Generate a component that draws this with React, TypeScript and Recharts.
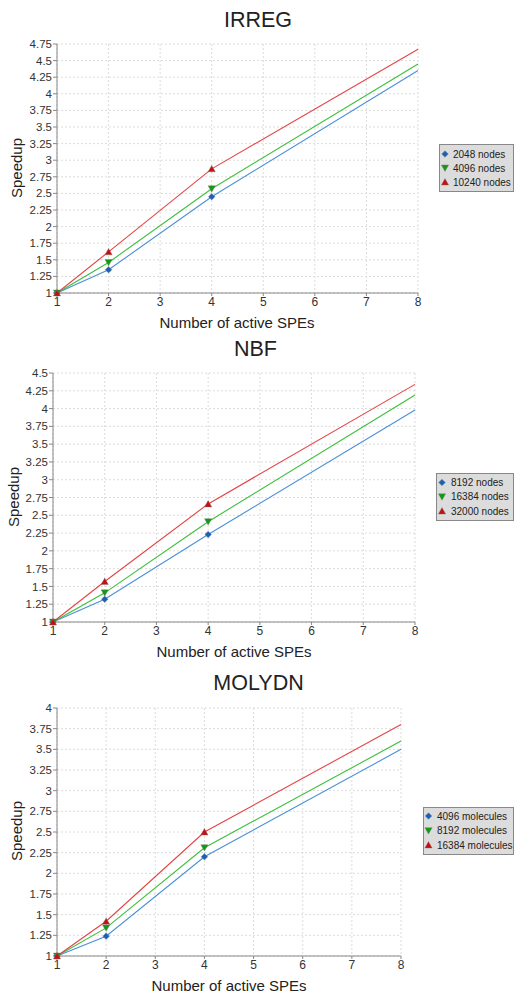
import React from 'react';
import { LineChart, Line, XAxis, YAxis, CartesianGrid } from 'recharts';

const speCounts = [1, 2, 4, 8];
const markedSpeCounts = [1, 2, 4];
const xTicks = [1, 2, 3, 4, 5, 6, 7, 8];

const irregTitle = 'IRREG';
const irregNames = ['2048 nodes', '4096 nodes', '10240 nodes'];
const irreg2048 = [1, 1.35, 2.45, 4.35];
const irreg4096 = [1, 1.46, 2.57, 4.45];
const irreg10240 = [1, 1.62, 2.87, 4.67];
const irregYTicks = [1, 1.25, 1.5, 1.75, 2, 2.25, 2.5, 2.75, 3, 3.25, 3.5, 3.75, 4, 4.25, 4.5, 4.75];

const nbfTitle = 'NBF';
const nbfNames = ['8192 nodes', '16384 nodes', '32000 nodes'];
const nbf8192 = [1, 1.32, 2.23, 3.98];
const nbf16384 = [1, 1.41, 2.41, 4.19];
const nbf32000 = [1, 1.57, 2.66, 4.34];
const nbfYTicks = [1, 1.25, 1.5, 1.75, 2, 2.25, 2.5, 2.75, 3, 3.25, 3.5, 3.75, 4, 4.25, 4.5];

const molydnTitle = 'MOLYDN';
const molydnNames = ['4096 molecules', '8192 molecules', '16384 molecules'];
const molydn4096 = [1, 1.24, 2.2, 3.5];
const molydn8192 = [1, 1.34, 2.31, 3.6];
const molydn16384 = [1, 1.42, 2.5, 3.8];
const molydnYTicks = [1, 1.25, 1.5, 1.75, 2, 2.25, 2.5, 2.75, 3, 3.25, 3.5, 3.75, 4];

const xLabel = 'Number of active SPEs';
const yLabel = 'Speedup';

const FONT = '"Liberation Sans", Arial, sans-serif';

const seriesStyle = [
  { line: '#4a90d9', marker: '#1a62b8', shape: 'diamond' },
  { line: '#3cbf3c', marker: '#129a12', shape: 'down' },
  { line: '#e44444', marker: '#c41010', shape: 'up' },
];

function Marker({ cx, cy, shape, color }: { cx: number; cy: number; shape: string; color: string }) {
  if (cx == null || cy == null || isNaN(cx) || isNaN(cy)) return null;
  if (shape === 'diamond') {
    const s = 3.3;
    return <path d={`M${cx},${cy - s}L${cx + s},${cy}L${cx},${cy + s}L${cx - s},${cy}Z`} fill={color} stroke="#777" strokeWidth={0.4} />;
  }
  if (shape === 'down') {
    return <path d={`M${cx - 3.6},${cy - 3}L${cx + 3.6},${cy - 3}L${cx},${cy + 3.4}Z`} fill={color} stroke="#777" strokeWidth={0.4} />;
  }
  return <path d={`M${cx - 3.6},${cy + 3}L${cx + 3.6},${cy + 3}L${cx},${cy - 3.4}Z`} fill={color} stroke="#777" strokeWidth={0.4} />;
}

type PanelProps = {
  top: number;
  height: number;
  title: string;
  names: string[];
  values: number[][];
  yTicks: number[];
  margin: { top: number; right: number; bottom: number; left: number };
  titlePos: [number, number];
  yLabelPos: [number, number];
  xLabelPos: [number, number];
  legendBox: { x: number; y: number; w: number; h: number };
  legendRows: number[];
  legendMarkerX: number;
  legendTextX: number;
};

function Panel(p: PanelProps) {
  const data = speCounts.map((spe, i) => ({
    spe,
    s0: p.values[0][i],
    s1: p.values[1][i],
    s2: p.values[2][i],
  }));
  const yMin = p.yTicks[0];
  const yMax = p.yTicks[p.yTicks.length - 1];
  return (
    <div style={{ position: 'absolute', left: 0, top: p.top, width: 514, height: p.height }}>
      <LineChart width={514} height={p.height} data={data} margin={p.margin}>
        <CartesianGrid stroke="#dcdcdc" strokeDasharray="2 2" />
        <XAxis
          dataKey="spe"
          type="number"
          domain={[1, 8]}
          ticks={xTicks}
          height={20}
          axisLine={{ stroke: '#888' }}
          tickLine={{ stroke: '#888' }}
          tickSize={3}
          tickMargin={1}
          tick={{ fill: '#333', fontSize: 12, fontFamily: FONT }}
          interval={0}
        />
        <YAxis
          type="number"
          domain={[yMin, yMax]}
          ticks={p.yTicks}
          width={40}
          axisLine={{ stroke: '#888' }}
          tickLine={{ stroke: '#888' }}
          tickSize={4}
          tickMargin={1}
          tick={{ fill: '#333', fontSize: 11.5, fontFamily: FONT }}
          interval={0}
        />
        {seriesStyle.map((s, k) => (
          <Line
            key={k}
            type="linear"
            dataKey={`s${k}`}
            stroke={s.line}
            strokeWidth={1.1}
            isAnimationActive={false}
            dot={(props: any) =>
              markedSpeCounts.includes(props.payload?.spe) ? (
                <Marker key={`${k}-${props.index}`} cx={props.cx} cy={props.cy} shape={s.shape} color={s.marker} />
              ) : (
                <g key={`${k}-${props.index}`} />
              )
            }
            activeDot={false}
          />
        ))}
      </LineChart>
      <svg
        width={514}
        height={p.height}
        style={{ position: 'absolute', left: 0, top: 0, pointerEvents: 'none', fontFamily: FONT }}
      >
        <text x={p.titlePos[0]} y={p.titlePos[1]} textAnchor="middle" fontSize={21.5} fill="#222">
          {p.title}
        </text>
        <text
          x={p.yLabelPos[0]}
          y={p.yLabelPos[1]}
          textAnchor="middle"
          dominantBaseline="central"
          fontSize={15}
          fill="#222"
          transform={`rotate(-90 ${p.yLabelPos[0]} ${p.yLabelPos[1]})`}
        >
          {yLabel}
        </text>
        <text x={p.xLabelPos[0]} y={p.xLabelPos[1]} textAnchor="middle" dominantBaseline="central" fontSize={15} fill="#222">
          {xLabel}
        </text>
        <rect
          x={p.legendBox.x + 0.5}
          y={p.legendBox.y + 0.5}
          width={p.legendBox.w}
          height={p.legendBox.h}
          fill="#dcdcdc"
          stroke="#888"
          strokeWidth={1}
        />
        {p.names.map((name, k) => (
          <g key={name}>
            <Marker cx={p.legendMarkerX} cy={p.legendRows[k]} shape={seriesStyle[k].shape} color={seriesStyle[k].marker} />
            <text x={p.legendTextX} y={p.legendRows[k]} dominantBaseline="central" fontSize={10} fill="#222">
              {name}
            </text>
          </g>
        ))}
      </svg>
    </div>
  );
}

export default function App() {
  return (
    <div style={{ position: 'absolute', left: 0, top: 0, width: 514, height: 992, background: '#fff', overflow: 'hidden' }}>
      <Panel
        top={0}
        height={330}
        title={irregTitle}
        names={irregNames}
        values={[irreg2048, irreg4096, irreg10240]}
        yTicks={irregYTicks}
        margin={{ top: 44, right: 96, bottom: 17, left: 17 }}
        titlePos={[258, 27]}
        yLabelPos={[16, 168]}
        xLabelPos={[237, 322]}
        legendBox={{ x: 439, y: 144, w: 74, h: 47 }}
        legendRows={[154, 168, 182]}
        legendMarkerX={445}
        legendTextX={453}
      />
      <Panel
        top={330}
        height={330}
        title={nbfTitle}
        names={nbfNames}
        values={[nbf8192, nbf16384, nbf32000]}
        yTicks={nbfYTicks}
        margin={{ top: 43, right: 99, bottom: 18, left: 13 }}
        titlePos={[255.5, 25.7]}
        yLabelPos={[13, 167]}
        xLabelPos={[234, 321]}
        legendBox={{ x: 436, y: 143, w: 77, h: 47 }}
        legendRows={[152.5, 166.8, 181]}
        legendMarkerX={442}
        legendTextX={451}
      />
      <Panel
        top={660}
        height={332}
        title={molydnTitle}
        names={molydnNames}
        values={[molydn4096, molydn8192, molydn16384]}
        yTicks={molydnYTicks}
        margin={{ top: 48, right: 113, bottom: 16, left: 17 }}
        titlePos={[258.5, 30]}
        yLabelPos={[16, 171]}
        xLabelPos={[229, 325]}
        legendBox={{ x: 423, y: 147, w: 90, h: 47 }}
        legendRows={[156, 170.7, 185]}
        legendMarkerX={428.5}
        legendTextX={437}
      />
    </div>
  );
}
